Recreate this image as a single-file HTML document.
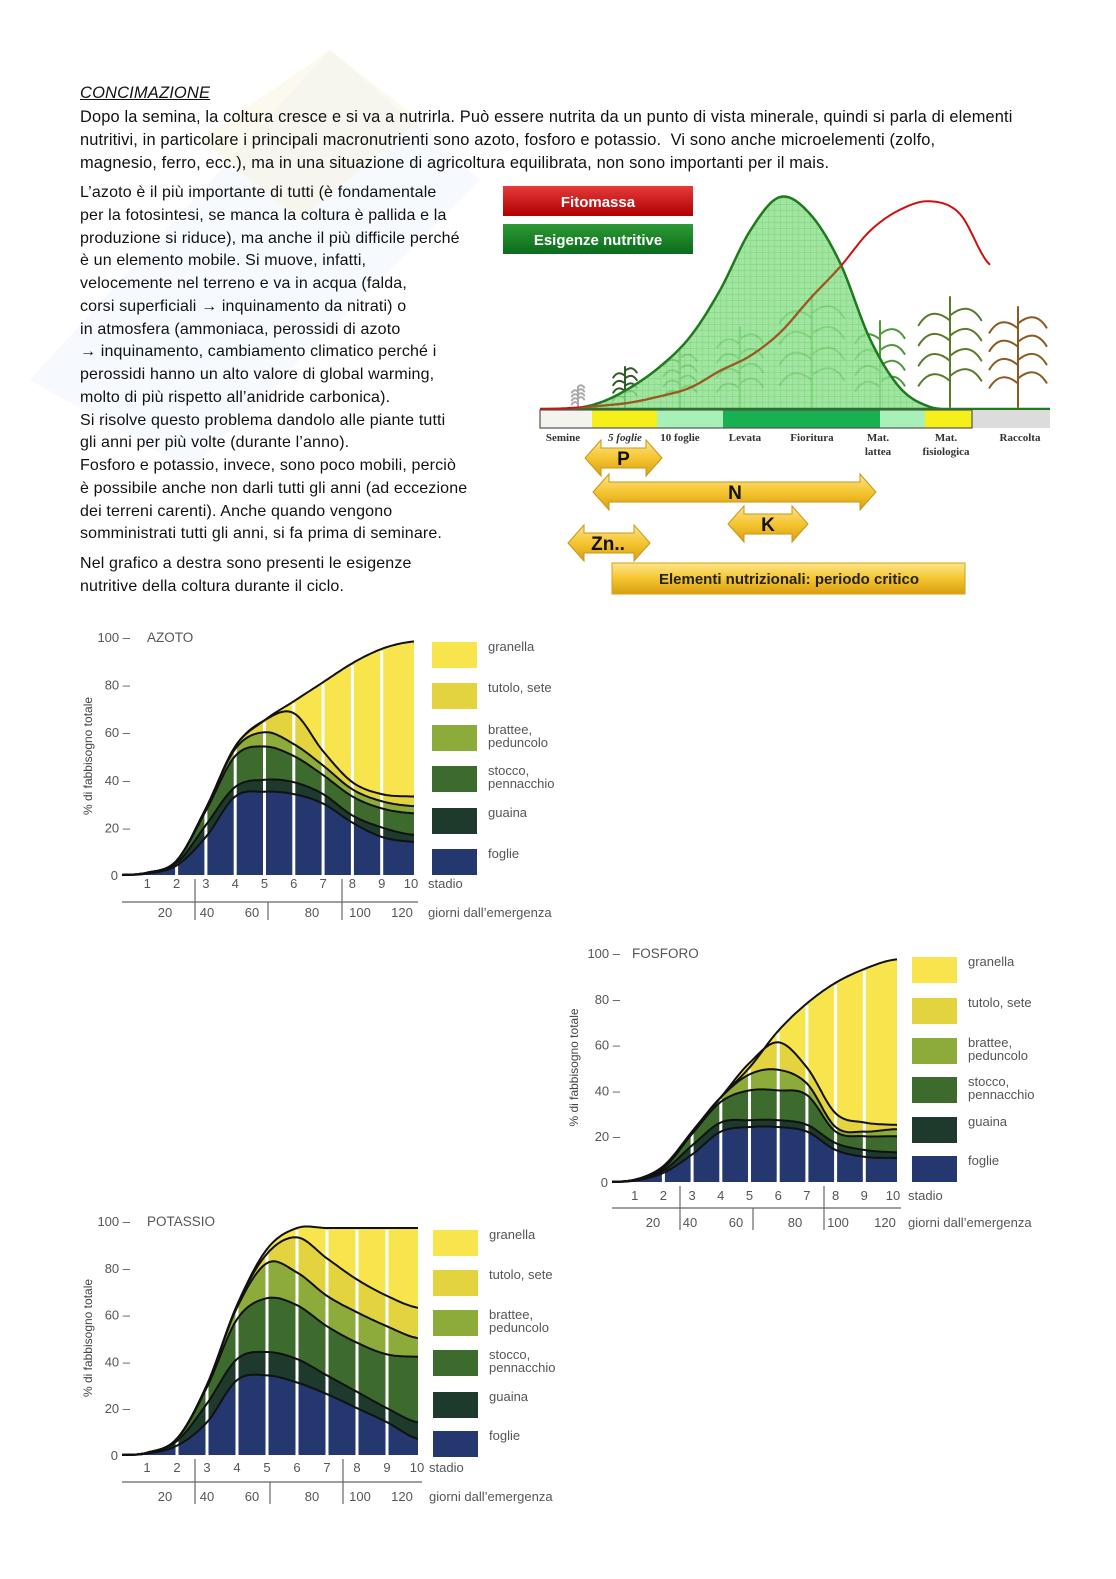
<!DOCTYPE html>
<html><head><meta charset="utf-8">
<style>
html,body{margin:0;padding:0;background:#fff;}
#page{position:relative;width:1116px;height:1579px;overflow:hidden;background:#fff;font-family:"Liberation Sans",sans-serif;color:#111;}
.ln{position:absolute;left:80px;white-space:nowrap;font-size:16.4px;line-height:18px;letter-spacing:0.15px;}
#svg{position:absolute;left:0;top:0;}
</style></head>
<body>
<div id="page">
<svg id="wm" width="1116" height="1579" style="position:absolute;left:0;top:0">
  <polygon points="30,380 330,50 480,180 190,470" fill="#e6eef8" opacity="0.35"/>
  <polygon points="200,140 330,50 420,120 300,220" fill="#f6f2d0" opacity="0.35"/>
</svg>
<div class="ln" style="top:84px;font-style:italic;text-decoration:underline;font-size:16.5px">CONCIMAZIONE</div>
<div class="ln" style="top:108px">Dopo la semina, la coltura cresce e si va a nutrirla. Può essere nutrita da un punto di vista minerale, quindi si parla di elementi</div>
<div class="ln" style="top:131px">nutritivi, in particolare i principali macronutrienti sono azoto, fosforo e potassio.&nbsp; Vi sono anche microelementi (zolfo,</div>
<div class="ln" style="top:154px">magnesio, ferro, ecc.), ma in una situazione di agricoltura equilibrata, non sono importanti per il mais.</div>
<div style="font-size:0">
<div class="ln" style="top:184px;font-size:16px">L’azoto è il più importante di tutti (è fondamentale</div>
<div class="ln" style="top:207px;font-size:16px">per la fotosintesi, se manca la coltura è pallida e la</div>
<div class="ln" style="top:230px;font-size:16px">produzione si riduce), ma anche il più difficile perché</div>
<div class="ln" style="top:252px;font-size:16px">è un elemento mobile. Si muove, infatti,</div>
<div class="ln" style="top:275px;font-size:16px">velocemente nel terreno e va in acqua (falda,</div>
<div class="ln" style="top:298px;font-size:16px">corsi superficiali → inquinamento da nitrati) o</div>
<div class="ln" style="top:321px;font-size:16px">in atmosfera (ammoniaca, perossidi di azoto</div>
<div class="ln" style="top:343px;font-size:16px">→ inquinamento, cambiamento climatico perché i</div>
<div class="ln" style="top:366px;font-size:16px">perossidi hanno un alto valore di global warming,</div>
<div class="ln" style="top:389px;font-size:16px">molto di più rispetto all’anidride carbonica).</div>
<div class="ln" style="top:412px;font-size:16px">Si risolve questo problema dandolo alle piante tutti</div>
<div class="ln" style="top:434px;font-size:16px">gli anni per più volte (durante l’anno).</div>
<div class="ln" style="top:457px;font-size:16px">Fosforo e potassio, invece, sono poco mobili, perciò</div>
<div class="ln" style="top:480px;font-size:16px">è possibile anche non darli tutti gli anni (ad eccezione</div>
<div class="ln" style="top:503px;font-size:16px">dei terreni carenti). Anche quando vengono</div>
<div class="ln" style="top:525px;font-size:16px">somministrati tutti gli anni, si fa prima di seminare.</div>
<div class="ln" style="top:555px;font-size:16px">Nel grafico a destra sono presenti le esigenze</div>
<div class="ln" style="top:578px;font-size:16px">nutritive della coltura durante il ciclo.</div>
</div>
<svg id="svg" width="1116" height="1579" xmlns="http://www.w3.org/2000/svg">
<defs>
  <pattern id="grid" width="6" height="6" patternUnits="userSpaceOnUse">
    <rect width="6" height="6" fill="#8fe08f"/>
    <path d="M0 0H6M0 0V6" stroke="#5fbf5f" stroke-width="0.7"/>
  </pattern>
  <linearGradient id="arr" x1="0" y1="0" x2="0" y2="1">
    <stop offset="0" stop-color="#fde58a"/><stop offset="0.5" stop-color="#f5c531"/><stop offset="1" stop-color="#d99e10"/>
  </linearGradient>
  <linearGradient id="gred" x1="0" y1="0" x2="0" y2="1">
    <stop offset="0" stop-color="#e63a3a"/><stop offset="1" stop-color="#b00000"/>
  </linearGradient>
  <linearGradient id="ggreen" x1="0" y1="0" x2="0" y2="1">
    <stop offset="0" stop-color="#2d9a35"/><stop offset="1" stop-color="#0b6b1c"/>
  </linearGradient>
</defs>
<g id="topfig"></g>
<g id="charts"></g>
</svg>
</div>
<script>
// ---------- Top diagram data ----------
const phaseLabels = ['Semine','5 foglie','10 foglie','Levata','Fioritura','Mat.|lattea','Mat.|fisiologica','Raccolta'];
const bellValues = [0,0,3,10,20,34,56,84,100,92,69,33,10,1,0,0];
const biomassValues = [0,0.5,1.5,3,6,10,18,25,36,52,67,84,94,98,92,68];
const nutrientLabels = ['P','N','K','Zn..'];

// ---------- Chart data (cumulative layer tops, stages 0..10) ----------
const stageLabels = ['1','2','3','4','5','6','7','8','9','10'];
const dayLabels = ['20','40','60','80','100','120'];
const yTicks = [0,20,40,60,80,100];
const legendNames = ['granella','tutolo, sete','brattee,|peduncolo','stocco,|pennacchio','guaina','foglie'];

const azotoFoglie  = [0,0.6,4,16,33,35,34,30,22,16,14];
const azotoGuaina  = [0,0.8,5,21,37,40,39,34,25,20,17];
const azotoStocco  = [0,1,6,27,50,54,50,42,33,28,26];
const azotoBrattee = [0,1,6,28,53,60,55,46,36,31,29];
const azotoTutolo  = [0,1,6,28,54,65,68,52,39,34,33];
const azotoTotale  = [0,1,6,28,54,65,73,81,89,95,98];

const fosforoFoglie  = [0,0.6,4,12,22,24,24,22,14,11,10.5];
const fosforoGuaina  = [0,0.8,5,16,26,27,27,25,17,14,13];
const fosforoStocco  = [0,1,6,21,35,40,40,38,22,20,20];
const fosforoBrattee = [0,1,6,22,37,47,49,43,24,22,23];
const fosforoTutolo  = [0,1,6,22,37,52,61,50,30,26,25];
const fosforoTotale  = [0,1,7,22,37,50,66,78,87,93,97];

const potassioFoglie  = [0,0.6,4,14,32,34,31,26,20,14,7];
const potassioGuaina  = [0,0.8,6,22,41,44,41,34,27,20,14];
const potassioStocco  = [0,1,7,29,58,67,64,55,48,43,42];
const potassioBrattee = [0,1,7,30,63,82,78,68,61,55,50];
const potassioTutolo  = [0,1,7,30,64,86,93,84,75,68,63];
const potassioTotale  = [0,1,7,30,64,88,97,97,97,97,97];

const NS='http://www.w3.org/2000/svg';
function el(tag, attrs, parent){const e=document.createElementNS(NS,tag);for(const k in attrs)e.setAttribute(k,attrs[k]);if(parent)parent.appendChild(e);return e;}
function txt(parent,x,y,s,attrs){const t=el('text',Object.assign({x:x,y:y},attrs||{}),parent);t.textContent=s;return t;}

function sample(vals,n){
  const v=vals.concat([vals[vals.length-1],vals[vals.length-1]]);
  const out=[];const L=v.length;
  for(let i=0;i<L-1;i++){
    const p0=v[Math.max(i-1,0)],p1=v[i],p2=v[i+1],p3=v[Math.min(i+2,L-1)];
    for(let j=0;j<n;j++){const t=j/n;
      const y=0.5*(2*p1+(-p0+p2)*t+(2*p0-5*p1+4*p2-p3)*t*t+(-p0+3*p1-3*p2+p3)*t*t*t);
      out.push([i+t,Math.max(0,y)]);}
  }
  out.push([L-1,v[L-1]]);return out;
}

const colors=['#24386f','#1e3a2d','#3c6b2d','#8cab3b','#e3d33f','#f8e44c'];

function drawChart(cfg,layers){
  const root=document.getElementById('charts');
  const g=el('g',{},root);
  
  
  const X=s=>cfg.s0+s*cfg.ds;
  const Y=v=>cfg.y0-v*cfg.k;
  const cid='clip-'+cfg.name;
  const cp=el('clipPath',{id:cid},g);
  el('rect',{x:cfg.left,y:cfg.y0-110*cfg.k,width:cfg.right-cfg.left,height:110*cfg.k+1},cp);
  const plot=el('g',{'clip-path':'url(#'+cid+')'},g);
  const S=layers.map(l=>sample(l,12));
  for(let k=0;k<layers.length;k++){
    const top=S[k];
    let d='M'+top.map(p=>X(p[0]).toFixed(1)+','+Y(p[1]).toFixed(1)).join('L');
    if(k===0){d+='L'+X(top[top.length-1][0])+','+cfg.y0+'L'+X(0)+','+cfg.y0+'Z';}
    else{const b=S[k-1].slice().reverse();d+='L'+b.map(p=>X(p[0]).toFixed(1)+','+Y(p[1]).toFixed(1)).join('L')+'Z';}
    const a=el('path',{d:d,fill:colors[k]},plot);
    
    
  }
  const tot=layers[layers.length-1];
  for(let s=2;s<=9;s++){
    const w=el('rect',{x:X(s)-1.5,y:Y(tot[s])+2,width:3,height:cfg.y0-Y(tot[s])-2,fill:'#fff'},plot);
    
    
  }
  for(let k=0;k<layers.length;k++){
    const d='M'+S[k].map(p=>X(p[0]).toFixed(1)+','+Y(p[1]).toFixed(1)).join('L');
    const ln=el('path',{d:d,fill:'none',stroke:'#111','stroke-width':2},plot);
    
    
  }
  yTicks.forEach(v=>{
    const t=txt(g,v?cfg.left+8:cfg.left-4,Y(v)+5,v?v+' –':'0',{'font-size':13,fill:'#555','text-anchor':'end'});
    
    
  });
  const tt=txt(g,cfg.titleX,Y(100)+5,cfg.title,{'font-size':13.5,fill:'#555'});
  
  
  const yl=txt(g,0,0,'% di fabbisogno totale',{'font-size':12,fill:'#444','text-anchor':'middle',transform:'translate('+cfg.ylabX+','+Y(50)+') rotate(-90)'});
  
  
  stageLabels.forEach((s,i)=>{
    const t=txt(g,X(i+1),cfg.stageY,s,{'font-size':13,fill:'#555','text-anchor':'middle'});
    
    
  });
  const st=txt(g,cfg.legX-4,cfg.stageY,'stadio',{'font-size':13,fill:'#555'});
  
  
  el('line',{x1:cfg.left,x2:cfg.right+4,y1:cfg.lineY,y2:cfg.lineY,stroke:'#666','stroke-width':1.2},g);
  cfg.seps.forEach((sx,i)=>{
    el('line',{x1:sx,x2:sx,y1:i===1?cfg.lineY:cfg.y0+4,y2:cfg.dayY+3,stroke:'#666','stroke-width':1.2},g);
  });
  dayLabels.forEach((d,i)=>{
    const t=txt(g,cfg.dayX[i],cfg.dayY,d,{'font-size':13,fill:'#555','text-anchor':'middle'});
    
    
  });
  const gd=txt(g,cfg.legX-4,cfg.dayY,'giorni dall’emergenza',{'font-size':13,fill:'#555'});
  
  
  legendNames.forEach((n,i)=>{
    const c=colors[5-i];
    const y=cfg.legY[i];
    const r=el('rect',{x:cfg.legX,y:y,width:45,height:26,fill:c},g);
    
    
    const parts=n.split('|');
    parts.forEach((p,j)=>{
      const t=txt(g,cfg.legX+56,y+9+j*13,p,{'font-size':13,fill:'#555'});
      
      
    });
  });
}

drawChart({name:'azoto',title:'AZOTO',titleX:147,s0:118,ds:29.3,left:122,right:414,y0:875,k:2.38,ylabX:92,
  stageY:888,lineY:902,dayY:917,seps:[195,268,342],dayX:[165,207,252,312,360,402],legX:432,
  legY:[642,683,725,766,808,849]},
  [azotoFoglie,azotoGuaina,azotoStocco,azotoBrattee,azotoTutolo,azotoTotale]);
drawChart({name:'fosforo',title:'FOSFORO',titleX:632,s0:606,ds:28.7,left:612,right:897,y0:1182,k:2.29,ylabX:578,
  stageY:1200,lineY:1208,dayY:1227,seps:[680,753,824],dayX:[653,690,736,795,838,885],legX:912,
  legY:[957,998,1038,1077,1117,1156]},
  [fosforoFoglie,fosforoGuaina,fosforoStocco,fosforoBrattee,fosforoTutolo,fosforoTotale]);
drawChart({name:'potassio',title:'POTASSIO',titleX:147,s0:117,ds:30,left:122,right:418,y0:1455,k:2.34,ylabX:92,
  stageY:1472,lineY:1482,dayY:1501,seps:[195,270,343],dayX:[165,207,252,312,360,402],legX:433,
  legY:[1230,1270,1310,1350,1392,1431]},
  [potassioFoglie,potassioGuaina,potassioStocco,potassioBrattee,potassioTutolo,potassioTotale]);

(function(){
  const g=document.getElementById('topfig');
  const bx0=540,bstep=30,base=409,hk=2.12;
  const BY=v=>base-v*hk;
  function plant(x,h,col){
    const p=el('g',{stroke:col,fill:'none','stroke-width':2,'stroke-linecap':'round'},g);
    
    
    el('line',{x1:x,y1:base-2,x2:x,y2:base-h},p);
    for(let i=0;i<4;i++){const yy=base-h*(0.25+i*0.18);const w=h*0.28;
      el('path',{d:'M'+x+','+yy+' Q'+(x-w*0.6)+','+(yy-w*0.5)+' '+(x-w)+','+(yy+w*0.15)},p);
      el('path',{d:'M'+x+','+(yy-5)+' Q'+(x+w*0.6)+','+(yy-5-w*0.5)+' '+(x+w)+','+(yy-5+w*0.15)},p);}
  }
  plant(578,22,'#aaa');plant(625,42,'#2f5a25');plant(680,58,'#3d7b2e');plant(740,82,'#4e9a38');plant(812,115,'#4e9a38');
  plant(880,88,'#4e9a38');plant(950,112,'#5a7a2a');plant(1018,102,'#8a5a20');
  const bs=sample(bellValues,10);
  const d='M'+bs.map(p=>(bx0+p[0]*bstep).toFixed(1)+','+BY(p[1]).toFixed(1)).join('L');
  const bell=el('path',{d:d+'Z',fill:'url(#grid)','fill-opacity':0.85,stroke:'#1f7a1f','stroke-width':2.5},g);
  
  
  const cp=el('clipPath',{id:'bellclip'},g);el('path',{d:d+'Z'},cp);
  const rs=sample(biomassValues,10).filter(p=>p[0]<=15);
  const rd='M'+rs.map(p=>(bx0+p[0]*bstep).toFixed(1)+','+BY(p[1]).toFixed(1)).join('L');
  const red=el('path',{d:rd,fill:'none',stroke:'#d01010','stroke-width':2},g);
  
  
  el('path',{d:rd,fill:'none',stroke:'#9a5a1e','stroke-width':2.2,'clip-path':'url(#bellclip)'},g);
  const segs=[[540,592,'#f4f4ee'],[592,657,'#f5ef1a'],[657,723,'#a8f0b8'],[723,880,'#18b050'],[880,925,'#a8f0b8'],[925,972,'#f5ef1a'],[972,1050,'#dcdcdc']];
  const bar=el('g',{},g);
  
  
  segs.forEach(s=>el('rect',{x:s[0],y:410,width:s[1]-s[0],height:18,fill:s[2]},bar));
  el('rect',{x:540,y:410,width:432,height:18,fill:'none',stroke:'#555','stroke-width':1.2},bar);
  const lx=[563,625,680,745,812,878,946,1020];
  phaseLabels.forEach((l,i)=>{l.split('|').forEach((p,j)=>{
    const t=txt(g,lx[i],441+j*14,p,{'font-size':11,'font-family':'Liberation Serif, serif','font-weight':'bold',fill:'#333','text-anchor':'middle','font-style':i===1?'italic':'normal'});
    
    
  });});
  const b1=el('rect',{x:503,y:186,width:190,height:30,fill:'url(#gred)'},g);
  
  
  txt(g,598,207,'Fitomassa',{'font-size':15,'font-weight':'bold',fill:'#fff','text-anchor':'middle'});
  const b2=el('rect',{x:503,y:224,width:190,height:30,fill:'url(#ggreen)'},g);
  
  
  txt(g,598,245,'Esigenze nutritive',{'font-size':15,'font-weight':'bold',fill:'#fff','text-anchor':'middle'});
  const arrows=[[585,662,458],[593,876,492],[728,808,524],[568,650,543]];
  arrows.forEach((a,i)=>{
    const [x1,x2,cy]=a,h=10,H=18,hw=16;
    const pts=[[x1,cy],[x1+hw,cy-H],[x1+hw,cy-h],[x2-hw,cy-h],[x2-hw,cy-H],[x2,cy],[x2-hw,cy+H],[x2-hw,cy+h],[x1+hw,cy+h],[x1+hw,cy+H]];
    const p=el('polygon',{points:pts.map(q=>q.join(',')).join(' '),fill:'url(#arr)',stroke:'#c8961a','stroke-width':1},g);
    
    
    const lxp=i===1?735:(i===3?x1+40:(x1+x2)/2);
    const t=txt(g,lxp,cy+7,nutrientLabels[i],{'font-size':19,'font-weight':'bold',fill:'#111','text-anchor':'middle'});
    
    
  });
  const ob=el('rect',{x:612,y:563,width:353,height:31,fill:'url(#arr)',stroke:'#d5a21a'},g);
  
  
  txt(g,789,584,'Elementi nutrizionali: periodo critico',{'font-size':15,'font-weight':'bold',fill:'#222','text-anchor':'middle'});
})();
</script>
</body></html>
